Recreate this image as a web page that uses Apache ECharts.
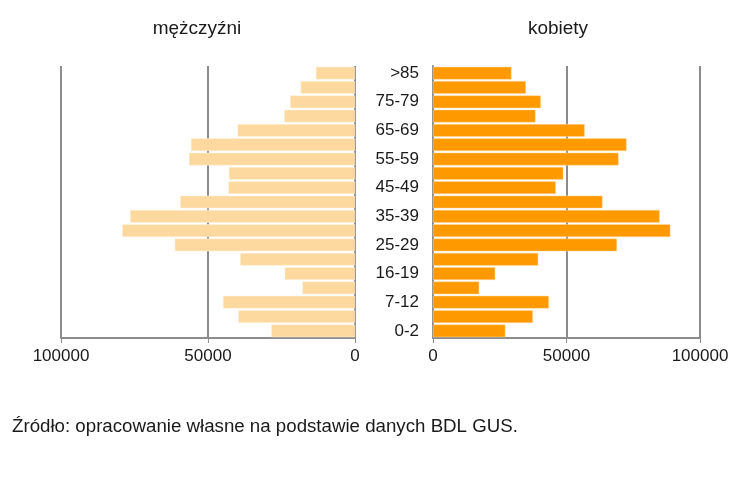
<!DOCTYPE html>
<html>
<head>
<meta charset="utf-8">
<script src="https://cdn.jsdelivr.net/npm/echarts@6/dist/echarts.min.js"></script>
<style>
  html, body { margin: 0; padding: 0; background: #fff; }
  #chart { width: 743px; height: 486px; }
</style>
</head>
<body>
<div id="chart"></div>
<script>
// age groups, from youngest (bottom) to oldest (top)
var ages = ['0-2', '3-6', '7-12', '13-15', '16-19', '20-24', '25-29', '30-34', '35-39', '40-44',
  '45-49', '50-54', '55-59', '60-64', '65-69', '70-74', '75-79', '80-84', '>85']
var men = [28500, 39700, 44900, 17900, 23900, 39100, 61300, 79200, 76500, 59500,
  43100, 42900, 56500, 55800, 40000, 24100, 22100, 18500, 13300]
var women = [27100, 37400, 43400, 17300, 23300, 39400, 68900, 88900, 84900, 63500,
  46000, 48800, 69500, 72500, 56800, 38400, 40400, 34800, 29400]
var axisTicks = [0, 50000, 100000]

var font = 'Liberation Sans, Arial, sans-serif'
var gray = '#8c8c8c'

var chart = echarts.init(document.getElementById('chart'))

function valueAxis(gridIndex, inverse) {
  return {
    type: 'value',
    gridIndex: gridIndex,
    inverse: inverse,
    min: axisTicks[0],
    max: axisTicks[axisTicks.length - 1],
    interval: axisTicks[1] - axisTicks[0],
    axisLine: { show: true, lineStyle: { color: gray, width: 2 } },
    axisTick: { show: true, length: 5, lineStyle: { color: gray, width: 1 } },
    axisLabel: {
      color: '#1a1a1a', fontSize: 17, fontFamily: font, margin: 10,
      formatter: function (v) { return String(v) }
    },
    splitLine: { show: true, lineStyle: { color: gray, width: 2 } }
  }
}

chart.setOption({
  animation: false,
  textStyle: { fontFamily: font },
  title: [
    { text: 'mężczyźni', left: 197, top: 19, padding: 0, textAlign: 'center',
      textStyle: { fontSize: 19, fontWeight: 'normal', color: '#1a1a1a', fontFamily: font } },
    { text: 'kobiety', left: 558, top: 19, padding: 0, textAlign: 'center',
      textStyle: { fontSize: 19, fontWeight: 'normal', color: '#1a1a1a', fontFamily: font } },
    { text: 'Źródło: opracowanie własne na podstawie danych BDL GUS.', left: 12, top: 417, padding: 0,
      textStyle: { fontSize: 18.7, fontWeight: 'normal', color: '#1a1a1a', fontFamily: font } }
  ],
  grid: [
    { left: 61, right: 388, top: 66, bottom: 148 },
    { left: 433, right: 43, top: 66, bottom: 148 }
  ],
  xAxis: [valueAxis(0, true), valueAxis(1, false)],
  yAxis: [
    {
      type: 'category',
      gridIndex: 0,
      data: ages,
      axisLine: { show: false },
      axisTick: { show: false },
      axisLabel: { show: false }
    },
    {
      type: 'category',
      gridIndex: 1,
      data: ages,
      axisLine: { show: true, lineStyle: { color: gray, width: 2 } },
      axisTick: { show: false },
      axisLabel: { interval: 1, color: '#1a1a1a', fontSize: 17, fontFamily: font, margin: 14 }
    }
  ],
  series: [
    {
      name: 'mężczyźni',
      type: 'bar',
      xAxisIndex: 0,
      yAxisIndex: 0,
      data: men,
      barCategoryGap: '11%',
      itemStyle: { color: '#fdd9a0', borderColor: '#fff3e0', borderWidth: 0.5 }
    },
    {
      name: 'kobiety',
      type: 'bar',
      xAxisIndex: 1,
      yAxisIndex: 1,
      data: women,
      barCategoryGap: '11%',
      itemStyle: { color: '#ff9900', borderColor: '#ffd9a0', borderWidth: 0.5 }
    }
  ]
})
</script>
</body>
</html>
